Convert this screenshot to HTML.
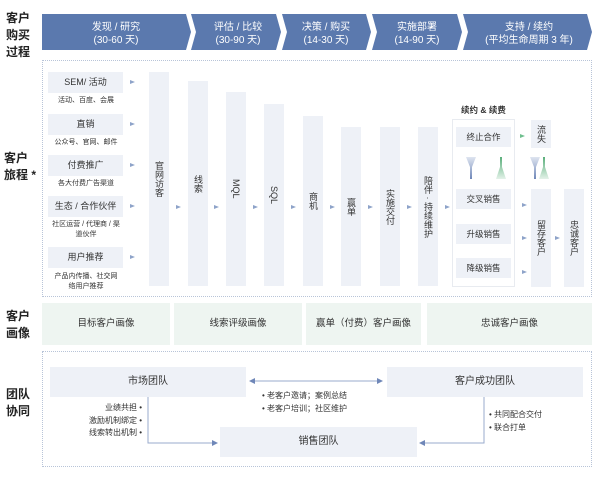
<!DOCTYPE html>
<html><head><meta charset="utf-8"><style>
*{margin:0;padding:0;box-sizing:border-box}
body{width:600px;height:478px;background:#fff;position:relative;overflow:hidden;font-family:"Liberation Sans","Noto Sans CJK SC",sans-serif;color:#333}
.a{position:absolute}
.lab{position:absolute;font-weight:bold;font-size:12px;line-height:17px;color:#222}
.src{position:absolute;left:48px;width:75px;height:21px;background:#eef1f7;font-size:9px;line-height:21px;text-align:center;color:#333}
.sub{position:absolute;left:44px;width:84px;font-size:7px;line-height:10px;text-align:center;color:#333}
.bar{position:absolute;width:20px;background:#eef1f7;font-size:9px;display:flex;align-items:center;justify-content:center;color:#333}
.bar span{writing-mode:vertical-rl;line-height:12px}
.ar{position:absolute;width:0;height:0;border-left:5px solid #8ea3c9;border-top:2px solid transparent;border-bottom:2px solid transparent}
.btn{position:absolute;left:456px;width:55px;height:20px;background:#eef1f7;font-size:8.5px;line-height:20px;text-align:center}
.per{position:absolute;top:303px;height:42px;background:#eef5f1;font-size:9.5px;line-height:42px;text-align:center;color:#333}
.team{position:absolute;height:30px;background:#eef1f7;font-size:10px;line-height:30px;text-align:center}
.bl{position:absolute;font-size:8px;line-height:12px;color:#333;white-space:nowrap}
</style></head><body>
<div class="lab" style="left:6px;top:10px">客户<br>购买<br>过程</div>
<div class="lab" style="left:4px;top:150px">客户<br>旅程 *</div>
<div class="lab" style="left:6px;top:308px">客户<br>画像</div>
<div class="lab" style="left:6px;top:386px">团队<br>协同</div>

<svg class="a" style="left:0;top:0" width="600" height="60">
<g fill="#5b79ae">
<polygon points="42,14 186,14 191,32 186,50 42,50"/>
<polygon points="191,14 276,14 281,32 276,50 191,50 196,32"/>
<polygon points="282,14 366,14 371,32 366,50 282,50 287,32"/>
<polygon points="372,14 457,14 462,32 457,50 372,50 377,32"/>
<polygon points="463,14 587,14 592,32 587,50 463,50 468,32"/>
</g>
<g fill="#fff" font-size="10" text-anchor="middle" font-family="Liberation Sans,Noto Sans CJK SC,sans-serif">
<text x="116" y="30">发现 / 研究</text><text x="116" y="43">(30-60 天)</text>
<text x="238" y="30">评估 / 比较</text><text x="238" y="43">(30-90 天)</text>
<text x="326" y="30">决策 / 购买</text><text x="326" y="43">(14-30 天)</text>
<text x="417" y="30">实施部署</text><text x="417" y="43">(14-90 天)</text>
<text x="529" y="30">支持 / 续约</text><text x="529" y="43">(平均生命周期 3 年)</text>
</g></svg>

<div class="a" style="left:42px;top:60px;width:550px;height:237px;border:1px dotted #b8c4d8"></div>

<div class="src" style="top:72px">SEM/ 活动</div><div class="sub" style="top:96px">活动、百度、会展</div>
<div class="src" style="top:114px">直销</div><div class="sub" style="top:138px">公众号、官网、邮件</div>
<div class="src" style="top:155px">付费推广</div><div class="sub" style="top:179px">各大付费广告渠道</div>
<div class="src" style="top:196px">生态 / 合作伙伴</div><div class="sub" style="top:220px">社区运营 / 代理商 / 渠<br>道伙伴</div>
<div class="src" style="top:247px">用户推荐</div><div class="sub" style="top:272px">产品内传播、社交网<br>络用户推荐</div>
<div class="ar" style="left:130px;top:80px"></div><div class="ar" style="left:130px;top:122px"></div><div class="ar" style="left:130px;top:163px"></div><div class="ar" style="left:130px;top:204px"></div><div class="ar" style="left:130px;top:255px"></div>

<div class="bar" style="left:149px;top:72px;height:214px"><span>官网访客</span></div>
<div class="bar" style="left:188px;top:81px;height:205px"><span>线索</span></div>
<div class="bar" style="left:226px;top:92px;height:194px"><span>MQL</span></div>
<div class="bar" style="left:264px;top:104px;height:182px"><span>SQL</span></div>
<div class="bar" style="left:303px;top:116px;height:170px"><span>商机</span></div>
<div class="bar" style="left:341px;top:127px;height:159px"><span>赢单</span></div>
<div class="bar" style="left:380px;top:127px;height:159px"><span>实施交付</span></div>
<div class="bar" style="left:418px;top:127px;height:159px"><span>陪伴 · 持续维护</span></div>
<div class="ar" style="left:176px;top:205px"></div><div class="ar" style="left:214px;top:205px"></div><div class="ar" style="left:253px;top:205px"></div><div class="ar" style="left:291px;top:205px"></div><div class="ar" style="left:330px;top:205px"></div><div class="ar" style="left:368px;top:205px"></div><div class="ar" style="left:407px;top:205px"></div><div class="ar" style="left:445px;top:205px"></div>

<div class="a" style="left:461px;top:104px;font-size:8.5px;font-weight:bold">续约 &amp; 续费</div>
<div class="a" style="left:452px;top:119px;width:63px;height:168px;border:1px solid #e8ebf0"></div>
<div class="btn" style="top:127px">终止合作</div>
<div class="btn" style="top:189px">交叉销售</div>
<div class="btn" style="top:224px">升级销售</div>
<div class="btn" style="top:258px">降级销售</div>
<svg class="a" style="left:460px;top:155px" width="100" height="30">
<defs><linearGradient id="gb" x1="0" y1="0" x2="0" y2="1"><stop offset="0" stop-color="#dfe5f0"/><stop offset="1" stop-color="#6f87b8"/></linearGradient>
<linearGradient id="gg" x1="0" y1="1" x2="0" y2="0"><stop offset="0" stop-color="#e3f2e8"/><stop offset="1" stop-color="#5aae7a"/></linearGradient></defs>
<polygon points="6,2 16,2 12,12 12,24 10,24 10,12" fill="url(#gb)"/>
<polygon points="36,24 46,24 42,12 42,2 40,2 40,12" fill="url(#gg)"/>
<polygon points="70,2 80,2 76,12 76,24 74,24 74,12" fill="url(#gb)"/>
<polygon points="79,24 89,24 85,12 85,2 83,2 83,12" fill="url(#gg)"/>
</svg>
<div class="bar" style="left:531px;top:120px;height:28px"><span>流失</span></div>
<div class="bar" style="left:531px;top:189px;height:98px"><span>留存客户</span></div>
<div class="bar" style="left:564px;top:189px;height:98px"><span>忠诚客户</span></div>
<div class="ar" style="left:520px;top:134px;border-left-color:#6fbf8e"></div>
<div class="ar" style="left:522px;top:203px"></div><div class="ar" style="left:522px;top:236px"></div><div class="ar" style="left:522px;top:270px"></div><div class="ar" style="left:555px;top:236px"></div>

<div class="per" style="left:42px;width:128px">目标客户画像</div>
<div class="per" style="left:174px;width:128px">线索评级画像</div>
<div class="per" style="left:306px;width:115px">赢单（付费）客户画像</div>
<div class="per" style="left:427px;width:165px">忠诚客户画像</div>

<div class="a" style="left:42px;top:351px;width:550px;height:116px;border:1px dotted #b8c4d8"></div>
<div class="team" style="left:50px;top:367px;width:196px">市场团队</div>
<div class="team" style="left:387px;top:367px;width:196px">客户成功团队</div>
<div class="team" style="left:220px;top:427px;width:197px">销售团队</div>
<svg class="a" style="left:0;top:360px" width="600" height="100">
<g stroke="#9aabcc" fill="none" stroke-width="1">
<line x1="252" y1="21" x2="380" y2="21"/>
<polyline points="148,37 148,83 214,83"/>
<polyline points="484,37 484,83 422,83"/>
</g>
<g fill="#6f87b8">
<polygon points="249,21 255,18 255,24"/><polygon points="383,21 377,18 377,24"/>
<polygon points="218,83 212,80 212,86"/><polygon points="419,83 425,80 425,86"/>
</g></svg>
<div class="bl" style="right:458px;top:402px;text-align:right;line-height:12.5px">业绩共担 •<br>激励机制绑定 •<br>线索转出机制 •</div>
<div class="bl" style="left:262px;top:389px;line-height:13px">• 老客户邀请；案例总结<br>• 老客户培训；社区维护</div>
<div class="bl" style="left:489px;top:408px;line-height:13px">• 共同配合交付<br>• 联合打单</div>
</body></html>
